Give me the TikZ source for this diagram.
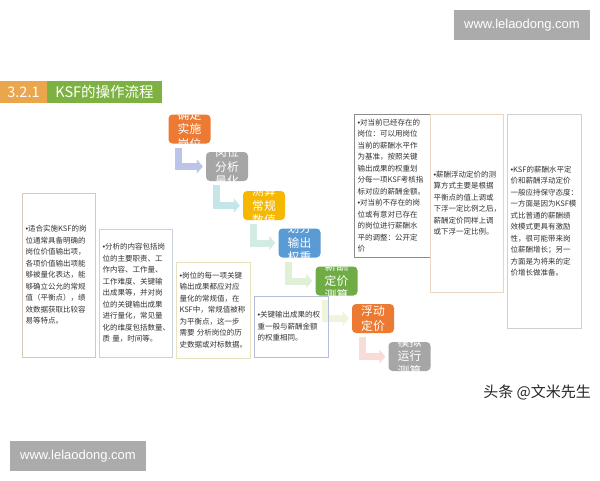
\documentclass[tikz,border=0pt]{standalone}
\usepackage{fontspec}
\setmainfont{Noto Sans CJK SC}
\newfontfamily\wmfont{Liberation Sans}
\usetikzlibrary{arrows.meta,calc}
\definecolor{tOrange}{HTML}{E9A64C}
\definecolor{tGreen}{HTML}{7DB243}
\definecolor{cOrange}{HTML}{EC7A32}
\definecolor{cGray}{HTML}{A6A6A6}
\definecolor{cGold}{HTML}{F6B700}
\definecolor{cBlue}{HTML}{5B9BD5}
\definecolor{cGreen}{HTML}{6FAC46}
\definecolor{aOne}{HTML}{BCC4E8}
\definecolor{aTwo}{HTML}{C4E6E8}
\definecolor{aThree}{HTML}{D2ECE3}
\definecolor{aFour}{HTML}{DFF0D7}
\definecolor{aFive}{HTML}{EFF4DA}
\definecolor{aSix}{HTML}{F9DCD7}
\definecolor{bTan}{HTML}{D9C8B5}
\definecolor{bBlue}{HTML}{C9D2E3}
\definecolor{bYellow}{HTML}{E6E3BE}
\definecolor{bSlate}{HTML}{B7BDD6}
\definecolor{bGray}{HTML}{8C8C8C}
\definecolor{bPeach}{HTML}{E9D6C4}
\definecolor{bLight}{HTML}{D0D0D0}
\definecolor{txt}{HTML}{333333}
\definecolor{wmGray}{HTML}{ABABAB}
\newcommand\bul{{\wmfont •}}
\newcommand\mkstep[5]{%
  \node[stepnode, fill=#4] (#1) at (#2,#3) {};
  \begin{scope}
    \clip[rounded corners=4pt] (#1.south west) rectangle (#1.north east);
    \node[steptext] (#1t) at (#1) {#5};
  \end{scope}}
\newcommand\mkarrow[3]{%
  \draw[flowarrow, draw=#3] ($(#1.south west)+(10.5pt,-4pt)$) |- ([xshift=-3pt]#2.west);}
\begin{document}
\begin{tikzpicture}[x=1pt,y=-1pt,
  stepnode/.style={rounded corners=4pt, minimum width=42pt, minimum height=29pt, inner sep=0pt},
  steptext/.style={text=white, align=center, inner sep=0pt, font=\fontsize{11.8}{14.5}\selectfont},
  flowarrow/.style={line width=7pt, line join=miter, -{Triangle[length=6pt,width=14pt]}},
  tbox/.style={draw=#1, line width=0.8pt, inner xsep=3.5pt, inner ysep=2pt, align=left, text=txt,
    font=\fontsize{7.5}{11.5}\selectfont},
  wm/.style={fill=wmGray, text=white, font=\wmfont\fontsize{13}{15}\selectfont, inner sep=0pt}]
\useasboundingbox (0,0) rectangle (600,480);
\fill[white] (0,0) rectangle (600,480);

% watermarks
\node[wm, minimum width=136pt, minimum height=30pt] (wmtop) at (522,25) {www.lelaodong.com};
\node[wm, minimum width=136pt, minimum height=30pt] (wmbot) at (78,456) {www.lelaodong.com};
\node[text=black!85, font=\fontsize{15}{17}\selectfont, anchor=east, inner sep=0pt] (author) at (591,392) {头条 @文米先生};

% title
\node[fill=tOrange, text=white, minimum width=47pt, minimum height=22pt, inner sep=0pt,
  font=\fontsize{14.5}{16}\selectfont] (t1) at (23.5,92) {3.2.1};
\node[fill=tGreen, text=white, minimum width=115pt, minimum height=22pt, inner sep=0pt,
  font=\fontsize{14.5}{16}\selectfont] (t2) at (104.5,92) {KSF的操作流程};

% steps
\mkstep{s1}{189.5}{129}{cOrange}{确定\\实施\\岗位}
\mkstep{s2}{227}{166.5}{cGray}{岗位\\分析\\量化}
\mkstep{s3}{264}{205.5}{cGold}{测算\\常规\\数值}
\mkstep{s4}{299.5}{243}{cBlue}{划分\\输出\\权重}
\mkstep{s5}{336.5}{281}{cGreen}{薪酬\\定价\\测算}
\mkstep{s6}{373}{318.5}{cOrange}{浮动\\定价}
\mkstep{s7}{409.5}{356.5}{cGray}{模拟\\运行\\测算}

\mkarrow{s1}{s2}{aOne}
\mkarrow{s2}{s3}{aTwo}
\mkarrow{s3}{s4}{aThree}
\mkarrow{s4}{s5}{aFour}
\mkarrow{s5}{s6}{aFive}
\mkarrow{s6}{s7}{aSix}

% text boxes
\node[tbox=bTan, text width=66pt, minimum height=164pt] (ba) at (58.5,275)
 {\bul 适合实施KSF的岗\\位通常具备明确的\\岗位价值输出项，\\各项价值输出项能\\够被量化表达，能\\够确立公允的常规\\值（平衡点），绩\\效数据获取比较容\\易等特点。};
\node[tbox=bBlue, text width=66pt, minimum height=128pt] (bb) at (135.5,293)
 {\bul 分析的内容包括岗\\位的主要职责、工\\作内容、工作量、\\工作难度、关键输\\出成果等，并对岗\\位的关键输出成果\\进行量化，常见量\\化的维度包括数量、\\质 量，时间等。};
\node[tbox=bYellow, text width=67pt, minimum height=96pt] (bc) at (213,310)
 {\bul 岗位的每一项关键\\输出成果都应对应\\量化的常规值，在\\KSF中，常规值被称\\为平衡点，这一步\\需要 分析岗位的历\\史数据或对标数据。};
\node[tbox=bSlate, text width=67pt, minimum height=61pt] (bd) at (291,326.5)
 {\bul 关键输出成果的权\\重一般与薪酬金额\\的权重相同。};
\node[tbox=bGray, text width=69pt, minimum height=143pt] (be) at (392,185.5)
 {\bul 对当前已经存在的\\岗位：可以用岗位\\当前的薪酬水平作\\为基准，按照关键\\输出成果的权重划\\分每一项KSF考核指\\标对应的薪酬金额。\\\bul 对当前不存在的岗\\位或有意对已存在\\的岗位进行薪酬水\\平的调整：公开定\\价};
\node[tbox=bPeach, text width=66pt, minimum height=178pt] (bf) at (466.5,203)
 {\bul 薪酬浮动定价的测\\算方式主要是根据\\平衡点的值上调或\\下浮一定比例之后，\\薪酬定价同样上调\\或下浮一定比例。};
\node[tbox=bLight, text width=67pt, minimum height=214pt] (bg) at (544,221)
 {\bul KSF的薪酬水平定\\价和薪酬浮动定价\\一般应持保守态度：\\一方面是因为KSF模\\式比普通的薪酬绩\\效模式更具有激励\\性，很可能带来岗\\位薪酬增长；另一\\方面是为将来的定\\价增长做准备。};
\end{tikzpicture}
\end{document}
